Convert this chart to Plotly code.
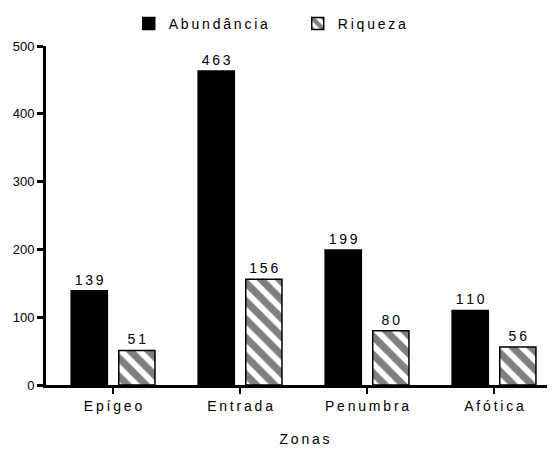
import plotly.graph_objects as go

zonas = ["Epígeo", "Entrada", "Penumbra", "Afótica"]
abundancia = [139, 463, 199, 110]
riqueza = [51, 156, 80, 56]
y_ticks = [0, 100, 200, 300, 400, 500]

FONT = "Liberation Sans, Arial, sans-serif"
THIN = "\u2009"


def spaced(s):
    # the original uses wide letter spacing; plotly has no letter-spacing option
    return THIN.join(str(s))


fig = go.Figure()
fig.add_trace(
    go.Bar(
        x=zonas,
        y=abundancia,
        name=spaced("Abundância"),
        text=[spaced(v) for v in abundancia],
        textposition="outside",
        marker=dict(color="black", line=dict(color="black", width=1.5)),
    )
)
fig.add_trace(
    go.Bar(
        x=zonas,
        y=riqueza,
        name=spaced("Riqueza"),
        text=[spaced(v) for v in riqueza],
        textposition="outside",
        marker=dict(
            color="white",
            line=dict(color="black", width=1.5),
            pattern=dict(shape="\\", fgcolor="black", bgcolor="white", size=13, solidity=0.55),
        ),
    )
)

fig.update_traces(textfont=dict(family=FONT, size=14, color="black"), cliponaxis=False)

fig.update_layout(
    width=555,
    height=454,
    barmode="group",
    bargap=0.25,
    bargroupgap=0.24,
    plot_bgcolor="white",
    paper_bgcolor="white",
    font=dict(family=FONT, size=13, color="black"),
    margin=dict(l=38, r=0, t=38, b=77, autoexpand=False),
    showlegend=True,
    legend=dict(
        orientation="h",
        x=0.16,
        xanchor="left",
        y=1.0,
        yanchor="top",
        yref="container",
        font=dict(size=14),
        itemwidth=30,
        entrywidth=124,
    ),
    xaxis=dict(
        range=[-0.528, 3.543],
        tickvals=zonas,
        ticktext=[spaced(z) for z in zonas],
        showline=True,
        linecolor="black",
        linewidth=3,
        ticks="outside",
        ticklen=6,
        tickwidth=2,
        tickcolor="black",
        tickfont=dict(size=14),
        title=dict(text=spaced("Zonas"), font=dict(size=14), standoff=22),
        showgrid=False,
        zeroline=False,
    ),
    yaxis=dict(
        range=[0, 500],
        tickvals=y_ticks,
        showline=True,
        linecolor="black",
        linewidth=3,
        ticks="outside",
        ticklen=6,
        tickwidth=3,
        tickcolor="black",
        tickfont=dict(size=13),
        showgrid=False,
        zeroline=False,
    ),
)

fig.write_html("out.html")
